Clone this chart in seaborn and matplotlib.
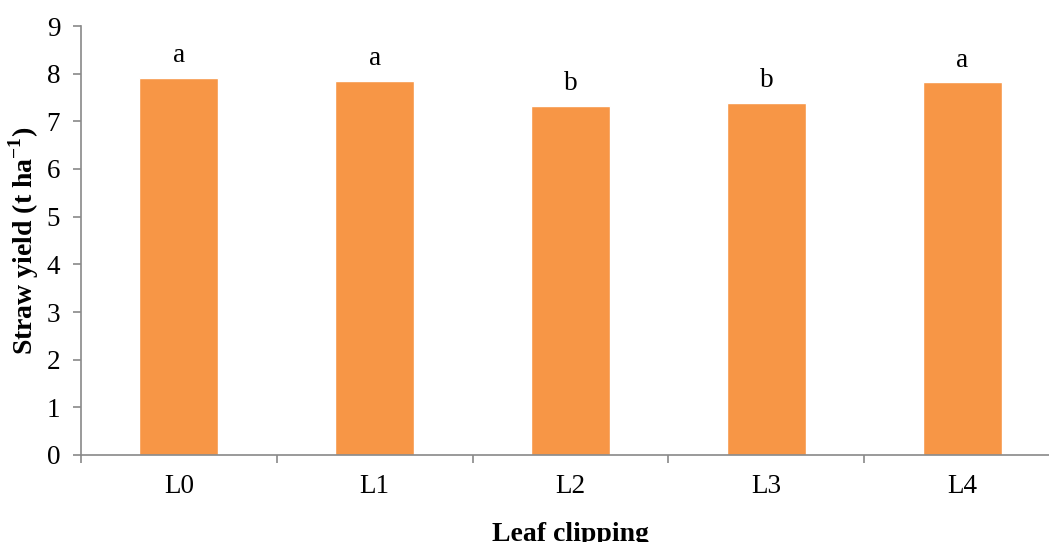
import matplotlib
matplotlib.use("Agg")
import matplotlib.pyplot as plt
import seaborn as sns
import pandas as pd
from matplotlib.ticker import FixedLocator

categories = ["L0", "L1", "L2", "L3", "L4"]
values = [7.91, 7.85, 7.32, 7.38, 7.82]
letters = ["a", "a", "b", "b", "a"]

sns.set_theme(style="white")
plt.rcParams['font.family'] = ['Liberation Serif', 'DejaVu Serif']
plt.rcParams['mathtext.fontset'] = 'custom'
plt.rcParams['mathtext.rm'] = 'Liberation Serif'
plt.rcParams['mathtext.bf'] = 'Liberation Serif:bold'

df = pd.DataFrame({"cat": categories, "val": values})

fig = plt.figure(figsize=(10.49, 5.42), dpi=100)
ax = fig.add_axes([81/1049, 1-455/542, (1060-81)/1049, (455-26)/542])
sns.barplot(data=df, x="cat", y="val", color="#F79646", width=0.403,
            saturation=1, ax=ax, errorbar=None)

ax.set_xlim(-0.5, 4.5)
ax.set_ylim(0, 9)
ax.set_yticks(range(0, 10))

for i, (v, t) in enumerate(zip(values, letters)):
    ax.annotate(t, (i, v), xytext=(0, 7), textcoords="offset points",
                ha="center", va="bottom", fontsize=19.5, color="black")

spine_c = "#898989"
for s in ["top", "right"]:
    ax.spines[s].set_visible(False)
for s in ["left", "bottom"]:
    ax.spines[s].set_color(spine_c)
    ax.spines[s].set_linewidth(1.2)

ax.tick_params(axis="y", which="major", direction="out", length=6, width=1.2,
               color=spine_c, labelsize=19.5, labelcolor="black", pad=9, left=True)
ax.tick_params(axis="x", which="major", length=0, labelsize=19.5, labelcolor="black", pad=14)
ax.xaxis.set_minor_locator(FixedLocator([-0.5, 0.5, 1.5, 2.5, 3.5, 4.5]))
ax.tick_params(axis="x", which="minor", direction="out", length=6, width=1.2,
               color=spine_c, bottom=True)

ax.set_xlabel("Leaf clipping", fontsize=20, fontweight="bold", labelpad=16, color="black")
ax.set_ylabel(r"Straw yield (t ha$^{\mathbf{-1}}$)", fontsize=20, fontweight="bold",
              labelpad=4, color="black")

fig.savefig("out.png", dpi=100)
